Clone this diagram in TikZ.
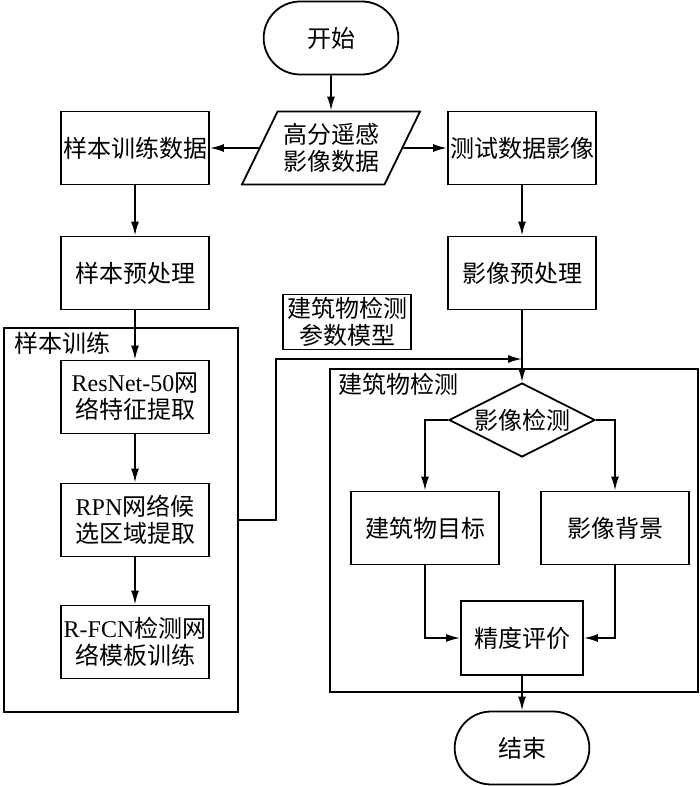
\documentclass[tikz,border=0pt]{standalone}
\usepackage{fontspec}
\setmainfont{Liberation Serif}
\newfontfamily\cjk{Noto Sans CJK SC}
\usetikzlibrary{arrows.meta,shapes.geometric,shapes.misc}
\newcommand\lat[1]{{\rmfamily #1}}

\begin{document}
\begin{tikzpicture}[x=0.5pt,y=-0.5pt,line width=0.9pt,
	font=\cjk\fontsize{12}{13.5}\selectfont,
	box/.style={draw,minimum width=74pt,minimum height=36.5pt,inner sep=1pt,align=center},
	term/.style={draw,rounded rectangle,minimum width=74pt,minimum height=36.5pt},
	arr/.style={-{Latex[length=7pt,width=4pt]}}]
		\useasboundingbox (0,0) rectangle (700,786);
		\node[term] (start) at (331,38) {开始};
		\node[draw,trapezium,trapezium left angle=64,trapezium right angle=116,minimum height=36.5pt,inner xsep=-4.5pt,inner ysep=1pt,align=center] (data) at (331,148) {高分遥感\\影像数据};
		\node[box] (trainData) at (135,148) {样本训练数据};
		\node[box] (testData) at (522,148) {测试数据影像};
		\node[box] (samplePre) at (135,273) {样本预处理};
		\node[box] (imagePre) at (522,273) {影像预处理};
		\node[box,minimum width=64pt,minimum height=27.5pt] (param) at (347,322) {建筑物检测\\参数模型};
		\node[draw,minimum width=116.75pt,minimum height=192pt] (train) at (121,520) {};
		\node[anchor=north west,inner sep=2pt,xshift=3pt] at (train.north west) {样本训练};
		\node[box] (resnet) at (135,397) {\lat{ResNet-50}网\\络特征提取};
		\node[box] (rpn) at (135,520) {\lat{RPN}网络候\\选区域提取};
		\node[box] (rfcn) at (135,642) {\lat{R-FCN}检测网\\络模板训练};
		\node[draw,minimum width=184pt,minimum height=161.5pt] (detect) at (514,530.5) {};
		\node[anchor=north west,inner sep=2pt,xshift=2pt] at (detect.north west) {建筑物检测};
		\node[draw,diamond,aspect=2,minimum width=73pt,minimum height=37pt,inner sep=0pt] (check) at (522,420) {影像检测};
		\node[box] (target) at (425,528) {建筑物目标};
		\node[box] (backgr) at (615,528) {影像背景};
		\node[box,minimum width=61pt,minimum height=37pt] (eval) at (522,638) {精度评价};
		\node[term] (finish) at (522,748) {结束};
		\coordinate (merge) at (522,359);
		\draw[arr] (start) -- (data);
		\draw[arr] (data.west) -- (trainData);
		\draw[arr] (data.east) -- (testData);
		\draw[arr] (trainData) -- (samplePre);
		\draw[arr] (samplePre) -- (resnet);
		\draw[arr] (resnet) -- (rpn);
		\draw[arr] (rpn) -- (rfcn);
		\draw[arr] (testData) -- (imagePre);
		\draw[arr] (imagePre) -- (check);
		\draw[arr] (train.east) -- ++(37,0) |- (merge);
		\draw[arr] (check.west) -| (target.north);
		\draw[arr] (check.east) -| (backgr.north);
		\draw[arr] (target.south) |- (eval.west);
		\draw[arr] (backgr.south) |- (eval.east);
		\draw[arr] (eval) -- (finish);
\end{tikzpicture}
\end{document}
